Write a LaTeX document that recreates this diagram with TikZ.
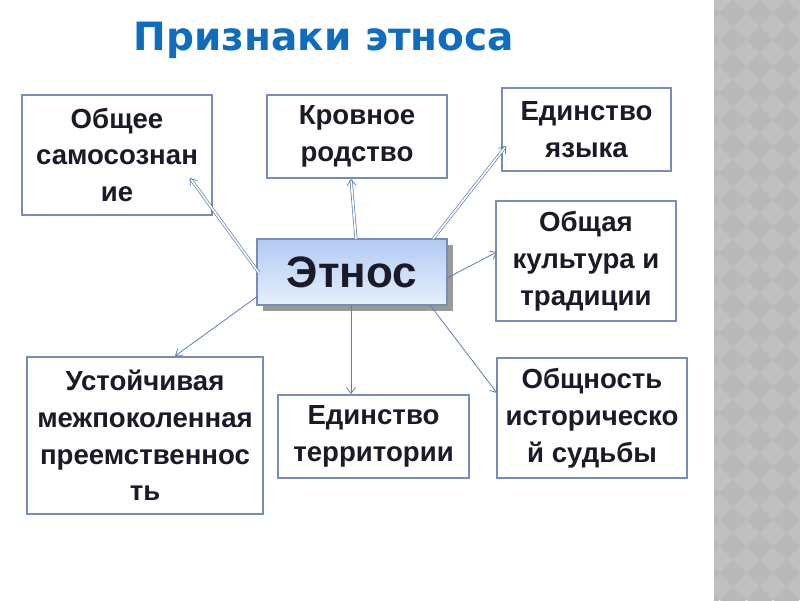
\documentclass[tikz,border=0pt]{standalone}
\usepackage{fontspec}
\setmainfont{Liberation Sans}
\newfontfamily\titlefont{DejaVu Sans}
\usetikzlibrary{arrows.meta,shadows}
\definecolor{titleblue}{RGB}{16,108,188}
\definecolor{boxline}{RGB}{120,142,178}
\definecolor{arrowc}{RGB}{95,128,175}
\definecolor{txt}{RGB}{26,26,40}
\definecolor{panel}{RGB}{192,192,192}
\definecolor{panelD}{RGB}{184,184,184}
\definecolor{hubtop}{RGB}{178,203,243}
\definecolor{hubbot}{RGB}{230,239,252}
\tikzset{
  card/.style={draw=boxline, line width=1.3pt, fill=white, align=center,
    inner sep=0pt, text=txt, font=\bfseries\fontsize{27.6}{36.8}\selectfont},
  hub/.style={draw=boxline, line width=1.1pt, top color=hubtop, bottom color=hubbot,
    inner sep=0pt, text=txt, font=\bfseries\fontsize{44}{50}\selectfont,
    drop shadow={shadow xshift=6pt, shadow yshift=-6pt, fill=black!40, opacity=1}},
  link/.style={draw=arrowc, line width=0.8pt, -{Straight Barb[length=6pt,width=9pt]}},
  dlink/.style={draw=arrowc, line width=0.7pt, double=white, double distance=1.6pt,
    -{Straight Barb[length=6pt,width=9pt]}}
}
\begin{document}
\begin{tikzpicture}[x=1pt,y=-1pt]
\useasboundingbox (0,0) rectangle (800,600);
\fill[white] (0,0) rectangle (800,600);
% right patterned panel
\begin{scope}
\clip (714,0) rectangle (800,600);
\fill[panel] (714,0) rectangle (800,600);
\foreach \i in {-1,...,4}{
  \foreach \j in {-1,...,23}{
    \fill[panelD] ({733+26.67*\i},{13+26.67*\j-13.33}) -- ++(13.33,13.33) -- ++(-13.33,13.33) -- ++(-13.33,-13.33) -- cycle;
  }
}
\end{scope}
% title
\node[anchor=base, text=titleblue, font=\titlefont\bfseries\fontsize{39}{45}\selectfont, inner sep=0pt] (title) at (324,50) {Признаки этноса};
% boxes
\node[card, minimum width=190pt, minimum height=120pt] (b1) at (117,155) {Общее\\самосознан\\ие};
\node[card, minimum width=180pt, minimum height=83pt] (b2) at (357,136.5) {Кровное\\родство};
\node[card, minimum width=169pt, minimum height=83pt] (b3) at (586.5,129.5) {Единство\\языка};
\node[card, minimum width=180pt, minimum height=120pt] (b4) at (586,261) {Общая\\культура и\\традиции};
\node[card, minimum width=236pt, minimum height=157pt] (b6) at (145,435.5) {Устойчивая\\межпоколенная\\преемственнос\\ть};
\node[card, minimum width=191pt, minimum height=83pt] (b7) at (373.5,436.5) {Единство\\территории};
\node[card, minimum width=190pt, minimum height=120pt] (b8) at (592,418) {Общность\\историческо\\й судьбы};
\node[hub, minimum width=190pt, minimum height=66pt] (c) at (352,272) {Этнос};
% anchor coordinates
\coordinate (t1) at (190,178);
\coordinate (s1) at (259,273);
\coordinate (t2) at (351,179);
\coordinate (s2) at (356,239);
\coordinate (t3) at (506,146);
\coordinate (s3) at (433,239);
\coordinate (t4) at (497,252);
\coordinate (s4) at (447,278);
\coordinate (t8) at (497,393);
\coordinate (s8) at (430,305);
\coordinate (t7) at (351,394);
\coordinate (s7) at (351,305);
\coordinate (t6) at (175,356);
\coordinate (s6) at (258,296);
% connectors
\draw[dlink] (s1) -- (t1);
\draw[dlink] (s2) -- (t2);
\draw[dlink] (s3) -- (t3);
\draw[link] (s4) -- (t4);
\draw[link] (s8) -- (t8);
\draw[link] (s7) -- (t7);
\draw[link] (s6) -- (t6);
\end{tikzpicture}
\end{document}
